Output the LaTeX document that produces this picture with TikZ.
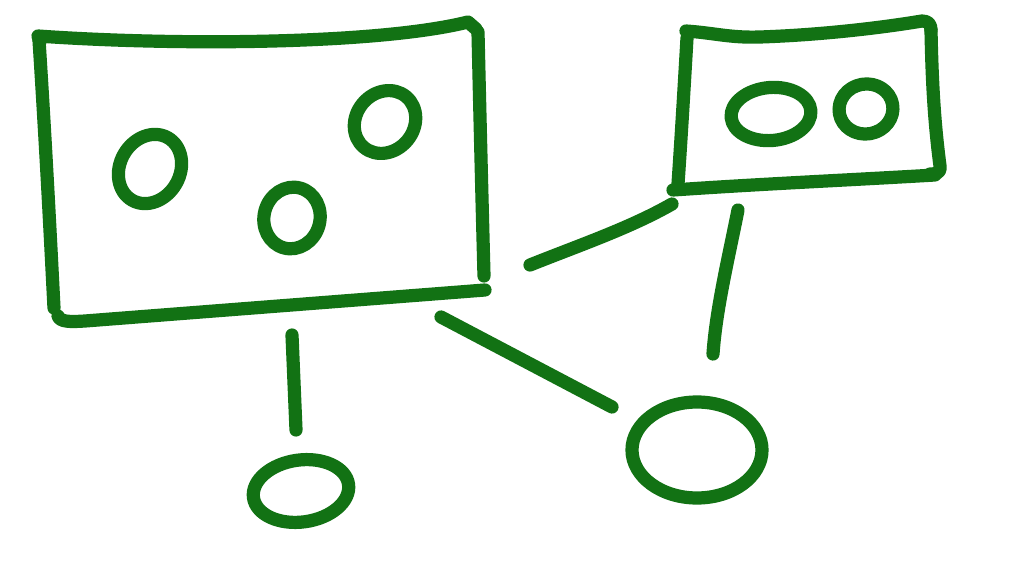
\documentclass[tikz,border=0pt]{standalone}
\definecolor{pen}{RGB}{18,114,20}
\begin{document}
\begin{tikzpicture}[x=0.01cm,y=-0.01cm,
  ink/.style={draw=pen,line width=0.132cm,line cap=round,line join=round}]
\useasboundingbox[fill=white] (0,0) rectangle (1030,576);
% big rectangle
\draw[ink] (476,29) -- (468,22) .. controls (380,44) and (180,46) .. (38,36) -- (40,42);
\draw[ink] (39,40) .. controls (46,150) and (50,230) .. (54,308);
\draw[ink] (478,32) .. controls (480,120) and (482,200) .. (484,276);
\draw[ink] (58,316) .. controls (60,322) and (70,322) .. (85,321) -- (485,290);
% circles in big rectangle
\draw[ink] (150,169) ellipse[x radius=30,y radius=36,rotate=-30];
\draw[ink] (292,218) ellipse[x radius=28,y radius=31,rotate=-15];
\draw[ink] (385,122) ellipse[x radius=29,y radius=33,rotate=-40];
% small rectangle
\draw[ink] (686,31) .. controls (715,33) and (730,38) .. (760,37) .. controls (820,35) and (880,28) .. (922,21) .. controls (928,21) and (931,24) .. (931,30);
\draw[ink] (687,38) .. controls (684,90) and (681,140) .. (678,184);
\draw[ink] (931,30) .. controls (932,80) and (934,120) .. (940,166) .. controls (941,172) and (938,174) .. (930,174);
\draw[ink] (935,175) .. controls (850,180) and (760,184) .. (673,190);
% circles in small rectangle
\draw[ink] (771,114) ellipse[x radius=40,y radius=26.5,rotate=5];
\draw[ink] (866,109) ellipse[x radius=27,y radius=25,rotate=10];
% bottom circles
\draw[ink] (301,491) ellipse[x radius=48,y radius=31,rotate=8];
\draw[ink] (697,450) ellipse[x radius=65,y radius=48,rotate=0];
% connectors
\coordinate (c1a) at (672,204); \coordinate (c1b) at (530,265);
\coordinate (c2a) at (738,210); \coordinate (c2b) at (713,354);
\coordinate (c3a) at (441,317); \coordinate (c3b) at (612,407);
\coordinate (c4a) at (292,335); \coordinate (c4b) at (296,430);
\draw[ink] (c1a) .. controls (630,228) and (580,245) .. (c1b);
\draw[ink] (c2a) .. controls (728,260) and (716,310) .. (c2b);
\draw[ink] (c3a) -- (c3b);
\draw[ink] (c4a) -- (c4b);
\end{tikzpicture}
\end{document}
